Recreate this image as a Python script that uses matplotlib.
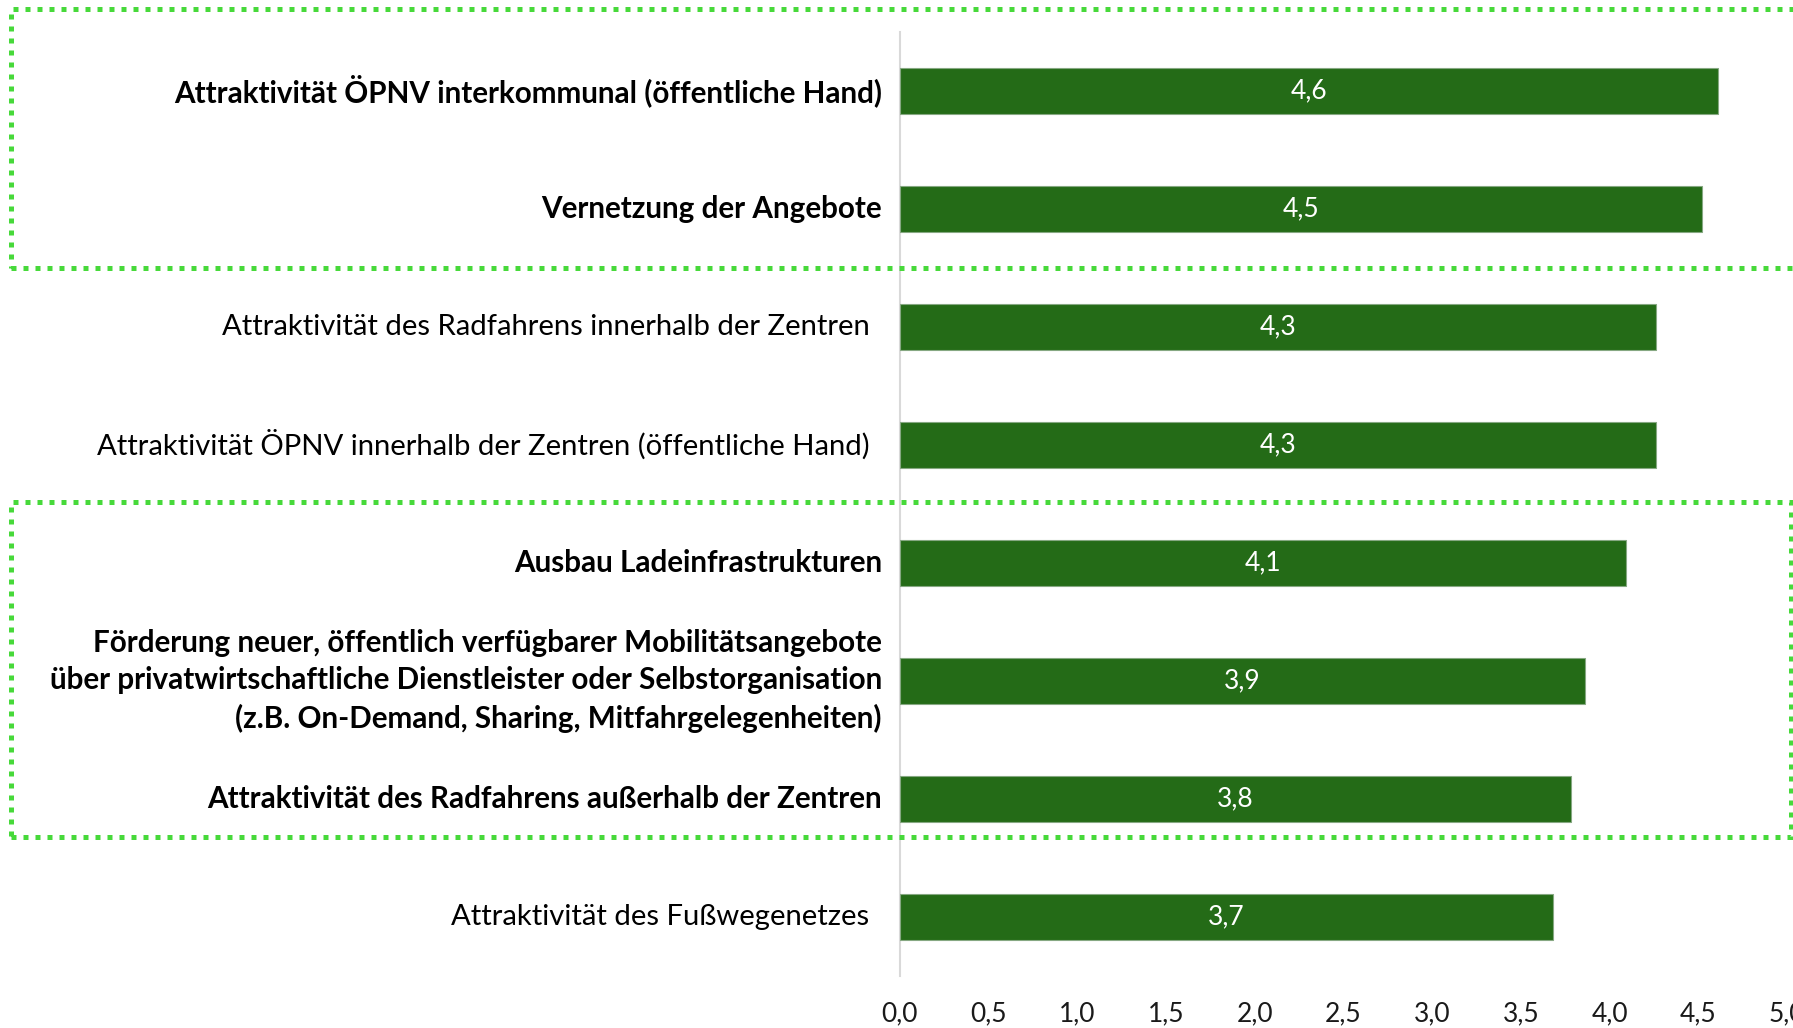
import numpy as np
import matplotlib.pyplot as plt
from matplotlib.patches import Rectangle

# DATI
kategorien = [
    "Attraktivität ÖPNV interkommunal (öffentliche Hand)",
    "Vernetzung der Angebote",
    "Attraktivität des Radfahrens innerhalb der Zentren",
    "Attraktivität ÖPNV innerhalb der Zentren (öffentliche Hand)",
    "Ausbau Ladeinfrastrukturen",
    "Förderung neuer, öffentlich verfügbarer Mobilitätsangebote\n"
    "über privatwirtschaftliche Dienstleister oder Selbstorganisation\n"
    "(z.B. On-Demand, Sharing, Mitfahrgelegenheiten)",
    "Attraktivität des Radfahrens außerhalb der Zentren",
    "Attraktivität des Fußwegenetzes",
]
werte = [4.61, 4.52, 4.26, 4.26, 4.09, 3.86, 3.78, 3.68]
fett = [True, True, False, False, True, True, True, False]
x_ticks = [0, 0.5, 1, 1.5, 2, 2.5, 3, 3.5, 4, 4.5, 5]

plt.rcParams['font.family'] = ['Lato', 'DejaVu Sans']

W, H = 1793, 1028
fig = plt.figure(figsize=(W / 100, H / 100), dpi=100)
ax = fig.add_axes([900 / W, (H - 976) / H, 887 / W, 944 / H])

y = np.arange(len(werte))
ax.barh(y, werte, height=0.39, color='#246b17', edgecolor='#86a882', linewidth=0.8, zorder=3)

# ETICHETTE DEI VALORI NELLE BARRE
for yi, v in zip(y, werte):
    ax.text(v / 2, yi, f"{v:.1f}".replace('.', ','), ha='center', va='center',
            color='white', fontsize=19, zorder=4)

# ETICHETTE DELLE CATEGORIE
for yi, lab, b in zip(y, kategorien, fett):
    off = -13 if b else -22
    ax.annotate(lab, xy=(0, yi), xytext=(off, 0), textcoords='offset points',
                ha='right', va='center', fontsize=21.3 if b else 21.1, color='black',
                fontweight='bold' if b else 'normal', linespacing=1.4,
                multialignment='right')

ax.set_xlim(0, 5)
ax.set_ylim(len(werte) - 0.5, -0.5)
ax.set_yticks([])
ax.set_xticks(x_ticks)
ax.set_xticklabels([f"{t:.1f}".replace('.', ',') for t in x_ticks], fontsize=19, color='#1a1a1a')
ax.tick_params(axis='x', length=0, pad=18)
for s in ['top', 'right', 'bottom']:
    ax.spines[s].set_visible(False)
ax.spines['left'].set_color('#d9d9d9')
ax.spines['left'].set_linewidth(1.5)
ax.spines['left'].set_zorder(1)

# RIQUADRI TRATTEGGIATI VERDI
for x0, top, x1, bottom in [(11, 9, 1810, 268), (11, 502, 1791, 837)]:
    r = Rectangle((x0 / W, (H - bottom) / H), (x1 - x0) / W, (bottom - top) / H,
                  transform=fig.transFigure, fill=False, edgecolor='#47d93a',
                  linewidth=3.6, linestyle=(0, (1, 1.4)), clip_on=False)
    fig.add_artist(r)

fig.savefig('out.png', dpi=100)
